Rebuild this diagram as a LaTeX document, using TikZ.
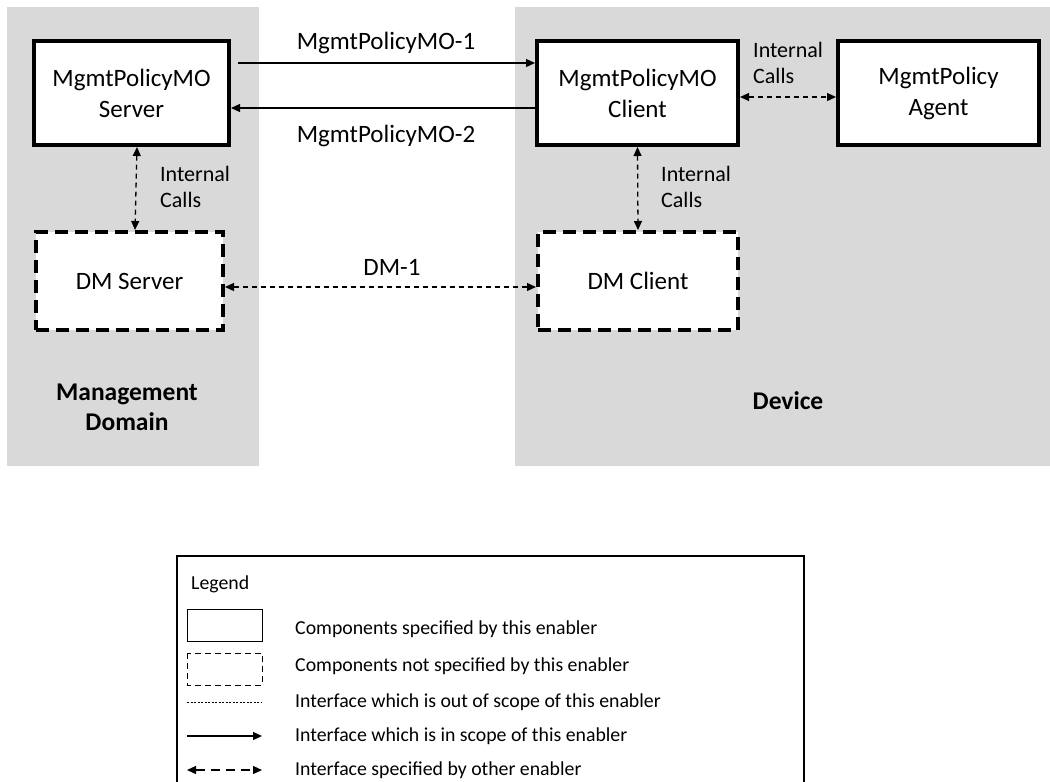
\documentclass[tikz,border=0pt]{standalone}
\usepackage{fontspec}
\setmainfont{Carlito}
\usetikzlibrary{arrows.meta}
\begin{document}
\begin{tikzpicture}[x=1pt,y=-1pt,
  panel/.style={fill=black!15, draw=none},
  compbox/.style={draw=black, fill=white, line width=4pt, align=center, font=\fontsize{25}{31}\selectfont, inner sep=0pt},
  extbox/.style={compbox, dash pattern=on 13pt off 7pt},
  lbl/.style={font=\fontsize{25}{28}\selectfont, inner sep=0pt},
  small/.style={font=\fontsize{22}{26}\selectfont, align=left, inner sep=0pt},
  title/.style={font=\bfseries\fontsize{25.5}{30}\selectfont, align=center, inner sep=0pt},
  arr/.style={line width=1.3pt, -{Triangle[length=9pt,width=8pt]}},
  darr/.style={line width=1.3pt, dash pattern=on 5pt off 4pt, {Triangle[length=9pt,width=8pt]}-{Triangle[length=9pt,width=8pt]}},
  legtxt/.style={font=\fontsize{19.8}{23}\selectfont, anchor=west, inner sep=0pt}
]
\useasboundingbox (0,0) rectangle (1050,782);
% panels
\fill[panel] (7,7) rectangle (259,466);
\fill[panel] (515,7) rectangle (1050,466);
% boxes
\node[compbox, minimum width=195pt, minimum height=104pt] (server) at (131.5,93) {MgmtPolicyMO\\Server};
\node[compbox, minimum width=201pt, minimum height=104pt] (client) at (637.5,93) {MgmtPolicyMO\\Client};
\node[compbox, minimum width=201pt, minimum height=104pt] (agent) at (938.5,93) {MgmtPolicy\\Agent};
\node[extbox, minimum width=187pt, minimum height=98pt] (dms) at (129.5,281) {DM Server};
\node[extbox, minimum width=200pt, minimum height=98pt] (dmc) at (638,281) {DM Client};
% connectors
\draw[arr] ([xshift=7pt,yshift=30pt]server.east) -- ([yshift=30pt]client.west);
\draw[arr] ([yshift=-15pt]client.west) -- ([yshift=-15pt]server.east);
\draw[darr] ([xshift=5.5pt]server.south) -- ([xshift=5.5pt]dms.north);
\draw[darr] ([xshift=0pt]client.south) -- ([xshift=0pt]dmc.north);
\draw[darr] ([yshift=-4pt]client.east) -- ([yshift=-4pt]agent.west);
\draw[darr] ([yshift=-6pt]dms.east) -- ([yshift=-6pt]dmc.west);
% labels
\node[lbl] (l1) at (386,43) {MgmtPolicyMO-1};
\node[lbl] (l2) at (386,136) {MgmtPolicyMO-2};
\node[lbl] (l3) at (392,267) {DM-1};
\node[small, anchor=west] (ic1) at (160,187) {Internal\\Calls};
\node[small, anchor=west] (ic2) at (661,187) {Internal\\Calls};
\node[small, anchor=west] (ic3) at (753,63) {Internal\\Calls};
\node[title] (md) at (127,407) {Management\\Domain};
\node[title] (dev) at (788,401) {Device};
% legend
\draw[line width=1.2pt] (177,782) -- (177,556) -- (804,556) -- (804,782);
\node[legtxt] (lg) at (191,584) {Legend};
\draw[line width=1pt] (187,609) rectangle (262,641);
\draw[line width=1pt, dash pattern=on 6pt off 4pt] (187,653) rectangle (262,685);
\coordinate (a1) at (187,702); \coordinate (b1) at (262,702);
\draw[line width=0.7pt, dash pattern=on 2pt off 1.5pt] (a1) -- (b1);
\coordinate (a2) at (187,736); \coordinate (b2) at (262,736);
\draw[line width=1.3pt, -{Triangle[length=9pt,width=8pt]}] (a2) -- (b2);
\coordinate (a3) at (187,770); \coordinate (b3) at (262,770);
\draw[darr, dash pattern=on 9pt off 6pt] (a3) -- (b3);
\node[legtxt] at (295,629) {Components specified by this enabler};
\node[legtxt] at (295,666) {Components not specified by this enabler};
\node[legtxt] at (295,702) {Interface which is out of scope of this enabler};
\node[legtxt] at (295,736) {Interface which is in scope of this enabler};
\node[legtxt] at (295,770) {Interface specified by other enabler};
\end{tikzpicture}
\end{document}
